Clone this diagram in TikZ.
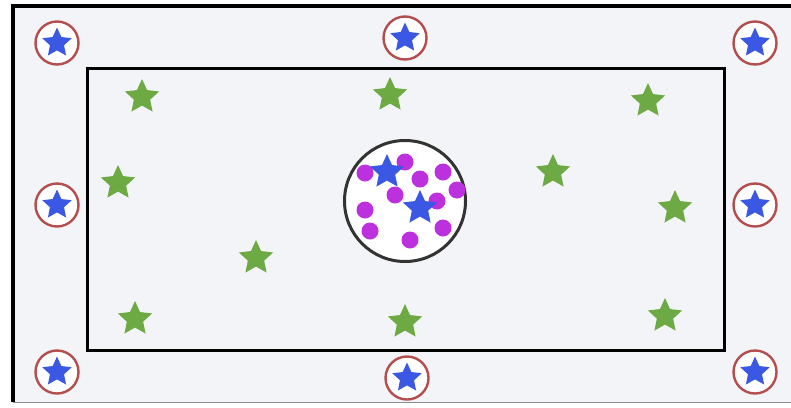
\documentclass[tikz,border=0pt]{standalone}
\usepackage{xcolor}
\usetikzlibrary{shapes.geometric}

\definecolor{bgpanel}{RGB}{243,244,248}
\definecolor{grstar}{RGB}{110,170,68}
\definecolor{blstar}{RGB}{58,88,228}
\definecolor{mgdot}{RGB}{188,48,222}
\definecolor{rdring}{RGB}{180,78,78}

\begin{document}
\begin{tikzpicture}[x=1pt,y=-1pt,
  gstar/.style={star,star points=5,star point ratio=2.1,fill=grstar,minimum size=36pt,inner sep=0pt},
  bstar/.style={star,star points=5,star point ratio=2.1,fill=blstar,minimum size=36pt,inner sep=0pt},
  cstar/.style={bstar,minimum size=31pt},
  ring/.style={circle,draw=rdring,line width=2.4pt,fill=white,minimum size=43pt,inner sep=0pt},
  dot/.style={circle,fill=mgdot,minimum size=17pt,inner sep=0pt}]
\useasboundingbox (0,0) rectangle (791,407);
% frame
\fill[bgpanel] (13,6) rectangle (791,402);
\coordinate (tl) at (13,6);
\coordinate (tr) at (791,6);
\coordinate (bl) at (13,402);
\coordinate (br) at (791,402);
\draw[line width=3.2pt] (tr) -- (tl) -- (bl);
\draw[black!45,line width=1pt] (bl) -- (br);
% inner field
\draw[line width=3pt] (87,68) rectangle (724,350);
% ringed stars on the border
\node[ring] (r1) at (57,43)  {};
\node[ring] (r2) at (405,38) {};
\node[ring] (r3) at (755,43) {};
\node[ring] (r4) at (57,205) {};
\node[ring] (r5) at (755,205) {};
\node[ring] (r6) at (57,372) {};
\node[ring] (r7) at (407,378) {};
\node[ring] (r8) at (755,372) {};
\node[cstar] at (r1) {};
\node[cstar] at (r2) {};
\node[cstar] at (r3) {};
\node[cstar] at (r4) {};
\node[cstar] at (r5) {};
\node[cstar] at (r6) {};
\node[cstar] at (r7) {};
\node[cstar] at (r8) {};
% green stars
\node[gstar] (g1)  at (142,97)  {};
\node[gstar] (g2)  at (390,95)  {};
\node[gstar] (g3)  at (648,101) {};
\node[gstar] (g4)  at (118,183) {};
\node[gstar] (g5)  at (553,172) {};
\node[gstar] (g6)  at (675,208) {};
\node[gstar] (g7)  at (256,258) {};
\node[gstar] (g8)  at (135,319) {};
\node[gstar] (g9)  at (405,322) {};
\node[gstar] (g10) at (665,316) {};
% centre circle
\node[circle,draw=black!80,line width=3pt,fill=white,minimum size=121pt,inner sep=0pt] (cc) at (405,201) {};
\node[dot] (d1)  at (405,162) {};
\node[dot] (d2)  at (365,173) {};
\node[dot] (d3)  at (420,179) {};
\node[dot] (d4)  at (443,172) {};
\node[dot] (d5)  at (457,190) {};
\node[dot] (d6)  at (395,195) {};
\node[dot] (d7)  at (437,201) {};
\node[dot] (d8)  at (365,210) {};
\node[dot] (d9)  at (370,231) {};
\node[dot] (d10) at (410,240) {};
\node[dot] (d11) at (443,228) {};
\node[bstar] (b1) at (387,172) {};
\node[bstar] (b2) at (420,208) {};
\end{tikzpicture}
\end{document}
